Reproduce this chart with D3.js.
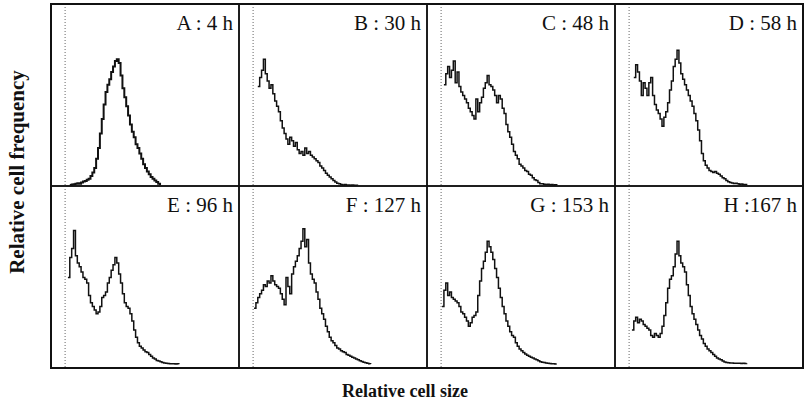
<!DOCTYPE html>
<html>
<head>
<meta charset="utf-8">
<script src="https://cdn.jsdelivr.net/npm/d3@7"></script>
<style>
  body { margin: 0; background: #fff; }
  text { font-family: "Liberation Serif", "Times New Roman", serif; fill: #111; }
</style>
</head>
<body>
<div id="chart"></div>
<script>
// panel labels, in reading order
const labels = ["A : 4 h", "B : 30 h", "C : 48 h", "D : 58 h",
                "E : 96 h", "F : 127 h", "G : 153 h", "H :167 h"];

// first channel of each histogram (relative cell size, 0-100)
const firstChannel = [10, 10, 9, 10, 9, 8, 8, 9];

// gate marker (dotted line) position in size units
const gateSize = 7.5;

// relative cell frequency per channel
const countsA = [0.5, 0.8, 1.0, 1.2, 1.5, 1.3, 2.0, 2.5, 2.8, 3.5, 4.0, 5.5, 7.5, 10, 15, 21, 29, 37, 45, 52,
  56, 59, 63, 66, 69, 70, 68, 61, 54, 49, 44, 39, 34, 30, 27, 23, 21, 18, 15, 12,
  10, 8, 6.5, 5, 4, 3, 2.2, 1.2, 0.5];
const countsB = [55, 60, 64, 70, 62, 58, 54, 56, 51, 47, 44, 41, 36, 32, 29, 26, 23, 27, 25, 22,
  24, 20, 18, 19, 17, 21, 18, 19, 17, 16, 15, 14, 13, 11, 10, 8.5, 7, 6, 5, 4,
  3, 2.2, 1.5, 1.2, 0.8, 0.6, 0.8, 0.5, 0.6, 0.4, 0.5, 0.4, 0.4, 0.3];
const countsC = [56, 62, 66, 60, 64, 69, 57, 63, 55, 52, 50, 48, 46, 43, 41, 39, 37, 48, 41, 46,
  49, 54, 57, 61, 56, 55, 53, 50, 46, 50, 48, 43, 40, 34, 30, 27, 23, 19, 17, 15,
  12, 11, 10, 8.5, 8, 6.5, 6, 4.5, 3.5, 3, 2, 1.3, 1.2, 1.0, 0.8, 1.0, 0.7, 0.8, 0.6, 0.7, 0.5];
const countsD = [60, 67, 63, 58, 50, 57, 54, 50, 57, 60, 50, 45, 42, 40, 37, 33, 38, 41, 46, 53,
  58, 66, 70, 75, 68, 62, 59, 56, 53, 50, 47, 44, 40, 36, 31, 25, 18, 14, 11.5, 10,
  8.5, 8, 7.5, 8, 7, 6.5, 5.5, 4.5, 4, 3, 2.3, 2, 1.6, 1.4, 1.5, 1.2, 1.0, 1.1, 0.8, 0.8, 0.6];
const countsE = [50, 61, 66, 76, 62, 58, 56, 53, 50, 49, 47, 40, 36, 34, 32, 30, 31, 34, 39, 40,
  42, 47, 50, 54, 57, 61, 58, 52, 47, 41, 36, 34, 33, 30, 26, 21, 17, 14, 12, 11,
  10, 9, 8.5, 7.5, 6.5, 5.5, 5, 4.2, 3.8, 3.5, 3, 2.8, 2.6, 2.5, 2.4, 2.3, 2.4, 2.2, 2.3, 2.1];
const countsF = [33, 36, 39, 41, 43, 46, 45, 48, 47, 51, 48, 46, 45, 44, 41, 38, 35, 50, 45, 41,
  52, 56, 59, 62, 66, 70, 77, 67, 71, 58, 52, 49, 47, 42, 38, 33, 30, 27, 23, 20,
  17, 15, 14, 12.5, 11, 10.5, 9.5, 9, 8.5, 7.5, 7, 6.5, 6, 5.5, 5, 4.5, 4, 3.6, 3.2, 2.9,
  2.6, 2.4, 2.2];
const countsG = [34, 43, 47, 40, 42, 39, 38, 37, 36, 34, 31, 30, 28, 26, 23, 25, 28, 29, 31, 40,
  48, 55, 59, 64, 70, 67, 64, 60, 55, 50, 44, 39, 34, 30, 26, 23, 20, 18, 17, 14,
  12, 10.5, 9.5, 8.5, 7.8, 7, 6.5, 6, 5.5, 5, 4.5, 4, 3.5, 3.2, 3, 2.8, 2.6, 2.5, 2.4, 2.3,
  2.2, 2.2];
const countsH = [21, 26, 28, 25, 27, 26, 24, 23, 22, 21, 18, 17, 19, 18, 17, 19, 23, 29, 36, 44,
  49, 51, 56, 63, 70, 62, 58, 56, 53, 46, 40, 34, 30, 27, 24, 21, 18, 16, 13.5, 12,
  10.5, 9.5, 8.5, 7.5, 6.5, 5.5, 5, 4.5, 3.8, 3.3, 3, 2.9, 2.8, 2.7, 2.6, 2.6, 2.6, 2.6, 2.5, 2.6,
  2.5, 2.6];

const allCounts = [countsA, countsB, countsC, countsD, countsE, countsF, countsG, countsH];

const width = 804, height = 410;
const frame = { left: 51, top: 4, right: 803, bottom: 368 };

const svg = d3.select("#chart")
  .append("svg")
  .attr("width", width)
  .attr("height", height);

// 4 x 2 grid of panels
const col = d3.scaleBand().domain(d3.range(4)).range([frame.left, frame.right]);
const row = d3.scaleBand().domain(d3.range(2)).range([frame.top, frame.bottom]);

allCounts.forEach(function(counts, i) {
  const px = col(i % 4), py = row(Math.floor(i / 4));
  const pw = col.bandwidth(), ph = row.bandwidth();

  const x = d3.scaleLinear().domain([0, 100]).range([px, px + pw]);
  const y = d3.scaleLinear().domain([0, 100]).range([py + ph, py + ph - 181]);

  const g = svg.append("g");

  // dotted gate marker
  g.append("line")
    .attr("x1", x(gateSize)).attr("x2", x(gateSize))
    .attr("y1", py).attr("y2", py + ph)
    .attr("stroke", "#666")
    .attr("stroke-width", 1)
    .attr("stroke-dasharray", "1,2");

  // histogram trace
  const pts = counts.map((v, k) => ({ c: firstChannel[i] + k, v: v }));
  const line = d3.line()
    .x(d => x(d.c))
    .y(d => y(d.v))
    .curve(d3.curveStepAfter);

  g.append("path")
    .datum(pts)
    .attr("d", line)
    .attr("fill", "none")
    .attr("stroke", "#111")
    .attr("stroke-width", i === 0 ? 2 : 1.5)
    .attr("stroke-linejoin", "miter");

  // panel border
  g.append("rect")
    .attr("x", px).attr("y", py)
    .attr("width", pw).attr("height", ph)
    .attr("fill", "none")
    .attr("stroke", "#111")
    .attr("stroke-width", 1.5);

  // panel label
  g.append("text")
    .attr("x", px + pw - 6)
    .attr("y", py + 26)
    .attr("text-anchor", "end")
    .attr("font-size", 21)
    .text(labels[i]);
});

// outer frame
svg.append("rect")
  .attr("x", frame.left).attr("y", frame.top)
  .attr("width", frame.right - frame.left)
  .attr("height", frame.bottom - frame.top)
  .attr("fill", "none")
  .attr("stroke", "#111")
  .attr("stroke-width", 2);

// axis titles
svg.append("text")
  .attr("transform", "translate(24," + 172 + ") rotate(-90)")
  .attr("text-anchor", "middle")
  .attr("font-size", 21)
  .attr("font-weight", "bold")
  .text("Relative cell frequency");

svg.append("text")
  .attr("x", 405)
  .attr("y", 397)
  .attr("text-anchor", "middle")
  .attr("font-size", 18)
  .attr("font-weight", "bold")
  .text("Relative cell size");
</script>
</body>
</html>
